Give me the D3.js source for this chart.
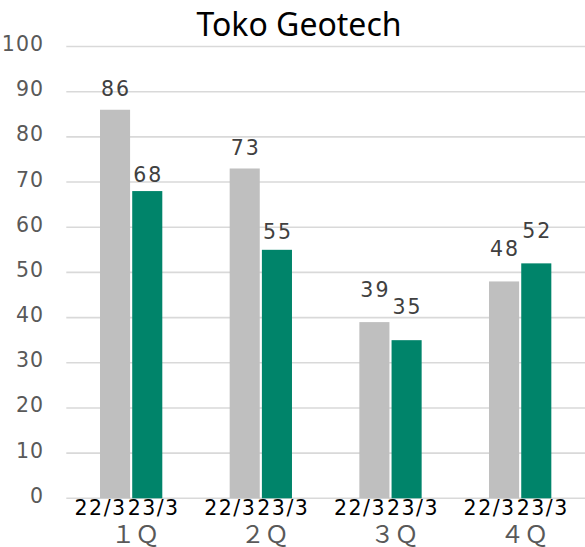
<!DOCTYPE html>
<html>
<head>
<meta charset="utf-8">
<script src="https://cdn.jsdelivr.net/npm/d3@7"></script>
<style>
  body { margin: 0; background: #fff; }
</style>
</head>
<body>
<div id="container"></div>
<script>
var quarters = ["１Ｑ", "２Ｑ", "３Ｑ", "４Ｑ"];
var years = ["22/3", "23/3"];
var prevYear = [86, 73, 39, 48];
var currYear = [68, 55, 35, 52];
var yTicks = [0, 10, 20, 30, 40, 50, 60, 70, 80, 90, 100];

// how far each value label sits above its bar (hand placed in the original)
var labelLift = [[14, 9], [13, 11], [25, 26], [25, 25]];

var colors = { "22/3": "#bfbfbf", "23/3": "#00846a" };

var drawChart = function () {
    var svg = d3.select("#container")
        .append("svg")
        .attr("width", 585)
        .attr("height", 547);

    var left = 66.3, right = 585, top = 46.5, bottom = 498.3;

    var x0 = d3.scaleBand()
        .domain(quarters)
        .range([left, right]);

    var x1 = d3.scaleBand()
        .domain(years)
        .range([33.7, 96])
        .paddingInner(0.066);

    var y = d3.scaleLinear()
        .domain([0, 100])
        .range([bottom, top]);

    // title
    svg.append("text")
        .attr("x", 299)
        .attr("y", 36)
        .attr("text-anchor", "middle")
        .style("font-family", "'Noto Sans', sans-serif")
        .style("font-size", "32px")
        .style("fill", "#000")
        .text("Toko Geotech");

    // gridlines
    svg.append("g")
        .selectAll("line")
        .data(yTicks)
        .enter()
        .append("line")
        .attr("x1", left)
        .attr("x2", right)
        .attr("y1", function (d) { return y(d); })
        .attr("y2", function (d) { return y(d); })
        .attr("stroke", "#d9d9d9")
        .attr("stroke-width", 1.6);

    // y tick labels
    svg.append("g")
        .selectAll("text")
        .data(yTicks)
        .enter()
        .append("text")
        .attr("x", 44)
        .attr("y", function (d) { return y(d) + 4.5; })
        .attr("text-anchor", "end")
        .style("font-family", "'DejaVu Sans', sans-serif")
        .style("font-size", "20.5px")
        .style("letter-spacing", "1px")
        .style("fill", "#595959")
        .text(function (d) { return d; });

    var rows = quarters.map(function (q, i) {
        return {
            q: q,
            i: i,
            vals: [
                { year: years[0], v: prevYear[i], lift: labelLift[i][0] },
                { year: years[1], v: currYear[i], lift: labelLift[i][1] }
            ]
        };
    });

    var groups = svg.append("g")
        .selectAll("g")
        .data(rows)
        .enter()
        .append("g")
        .attr("transform", function (d) { return "translate(" + x0(d.q) + ",0)"; });

    groups.selectAll("rect")
        .data(function (d) { return d.vals; })
        .enter()
        .append("rect")
        .attr("x", function (d) { return x1(d.year); })
        .attr("y", function (d) { return y(d.v); })
        .attr("width", x1.bandwidth())
        .attr("height", function (d) { return y(0) - y(d.v); })
        .style("fill", function (d) { return colors[d.year]; });

    groups.selectAll("text.val")
        .data(function (d) { return d.vals; })
        .enter()
        .append("text")
        .attr("class", "val")
        .attr("x", function (d) { return x1(d.year) + x1.bandwidth() / 2 + 1; })
        .attr("y", function (d) { return y(d.v) - d.lift; })
        .attr("text-anchor", "middle")
        .style("font-family", "'DejaVu Sans', sans-serif")
        .style("font-size", "20.5px")
        .style("letter-spacing", "2px")
        .style("fill", "#404040")
        .text(function (d) { return d.v; });

    // sub-category labels, squeezed against each other like the original
    var mid = x0.bandwidth() / 2;
    groups.append("text")
        .attr("x", mid - 4.5)
        .attr("y", 515)
        .attr("text-anchor", "end")
        .style("font-family", "'DejaVu Sans', sans-serif")
        .style("font-size", "20.5px")
        .style("letter-spacing", "1.5px")
        .style("fill", "#000")
        .text(years[0]);

    groups.append("text")
        .attr("x", mid - 3.5)
        .attr("y", 515)
        .attr("text-anchor", "start")
        .style("font-family", "'DejaVu Sans', sans-serif")
        .style("font-size", "20.5px")
        .style("letter-spacing", "1.5px")
        .style("fill", "#000")
        .text(years[1]);

    groups.append("text")
        .attr("x", mid + 4)
        .attr("y", 543)
        .attr("text-anchor", "middle")
        .style("font-family", "'Noto Sans CJK JP', sans-serif")
        .style("font-size", "24px")
        .style("fill", "#595959")
        .text(function (d) { return d.q; });
};

window.onload = drawChart;
</script>
</body>
</html>
